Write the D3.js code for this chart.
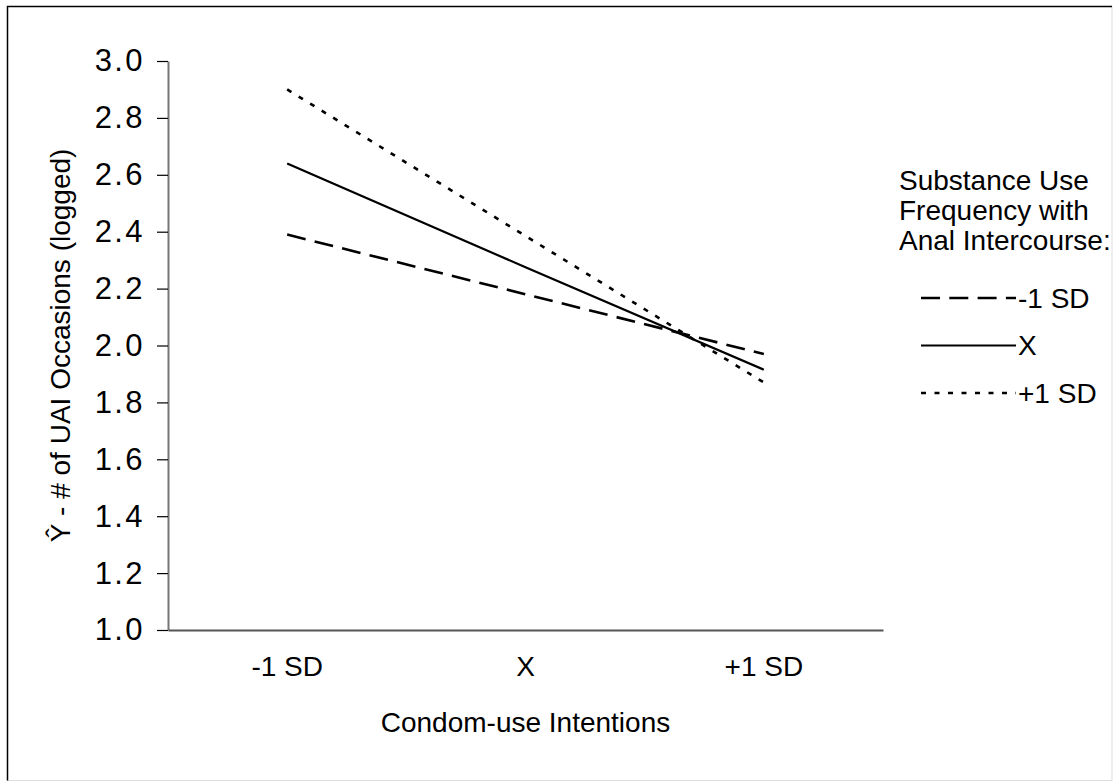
<!DOCTYPE html>
<html>
<head>
<meta charset="utf-8">
<script src="https://cdn.jsdelivr.net/npm/d3@7"></script>
<style>
  body { margin: 0; background: #fff; }
  svg text { font-family: "Liberation Sans", Arial, sans-serif; fill: #000; }
</style>
</head>
<body>
<div id="chart"></div>
<script>
// categories on the x axis
var categories = ["-1 SD", "X", "+1 SD"];

// predicted values per moderator level
var seriesNames = ["-1 SD", "X", "+1 SD"];
var lowValues  = [2.39, 2.18, 1.97];
var meanValues = [2.64, 2.275, 1.915];
var highValues = [2.90, 2.385, 1.87];

var yTicks = [1.0, 1.2, 1.4, 1.6, 1.8, 2.0, 2.2, 2.4, 2.6, 2.8, 3.0];

var legendTitle = ["Substance Use", "Frequency with", "Anal Intercourse:"];

var W = 1113, H = 782;
var margin = {top: 61, right: 230, bottom: 152, left: 168};
var width = W - margin.left - margin.right,
    height = H - margin.top - margin.bottom;

var series = [
    {name: seriesNames[0], values: lowValues,  dash: "19,9.3", sw: 2.6},
    {name: seriesNames[1], values: meanValues, dash: null,     sw: 2.2},
    {name: seriesNames[2], values: highValues, dash: "5,8.5",  sw: 2.6}
];

var svg = d3.select("#chart").append("svg")
    .attr("width", W)
    .attr("height", H);

// outer frame
svg.append("rect")
    .attr("x", 7.5).attr("y", 6.5)
    .attr("width", W - 8.5).attr("height", H - 8)
    .attr("fill", "none")
    .attr("stroke", "#ddd");
svg.append("path")
    .attr("d", "M7.5," + (H - 1.5) + "V6.5H" + (W - 1))
    .attr("fill", "none")
    .attr("stroke", "#000")
    .attr("stroke-width", 1.5);

var chart = svg.append("g")
    .attr("transform", "translate(" + margin.left + "," + margin.top + ")");

var x = d3.scaleBand().domain(categories).range([0, width]);
var y = d3.scaleLinear().domain([1, 3]).range([height, 0]);

// y axis
var yAxis = chart.append("g")
    .attr("class", "y axis")
    .call(d3.axisLeft(y).tickValues(yTicks).tickFormat(d3.format(".1f"))
        .tickSize(11).tickSizeOuter(0).tickPadding(12));
yAxis.select(".domain").attr("stroke", "#777").attr("stroke-width", 2);
yAxis.selectAll(".tick line").attr("stroke", "#000").attr("stroke-width", 1.2);
yAxis.selectAll(".tick text")
    .style("font-size", "31px")
    .style("letter-spacing", "2.4px");

// x axis
var xAxis = chart.append("g")
    .attr("class", "x axis")
    .attr("transform", "translate(0," + height + ")")
    .call(d3.axisBottom(x).tickSize(0).tickSizeOuter(0).tickPadding(26));
xAxis.select(".domain").attr("stroke", "#555").attr("stroke-width", 2);
xAxis.selectAll(".tick text")
    .style("font-size", "28px");

// axis titles
chart.append("text")
    .attr("x", width / 2)
    .attr("y", height + 102)
    .attr("text-anchor", "middle")
    .style("font-size", "28px")
    .text("Condom-use Intentions");

chart.append("text")
    .attr("transform", "rotate(-90)")
    .attr("x", -height / 2)
    .attr("y", 70 - margin.left)
    .attr("text-anchor", "middle")
    .style("font-size", "28px")
    .text("\u0176 - # of UAI Occasions (logged)");

// lines
var line = d3.line()
    .x(function (d, i) { return x(categories[i]) + x.bandwidth() / 2; })
    .y(function (d) { return y(d); });

chart.selectAll(".series")
    .data(series)
    .enter().append("path")
    .attr("class", "series")
    .attr("d", function (d) { return line(d.values); })
    .attr("fill", "none")
    .attr("stroke", "#000")
    .attr("stroke-width", function (d) { return d.sw; })
    .attr("stroke-dasharray", function (d) { return d.dash; });

// legend
var legend = svg.append("g").attr("transform", "translate(899,0)");
legend.selectAll(".ltitle")
    .data(legendTitle)
    .enter().append("text")
    .attr("class", "ltitle")
    .attr("x", 0)
    .attr("y", function (d, i) { return 190 + i * 30; })
    .style("font-size", "28px")
    .text(function (d) { return d; });

var item = legend.selectAll(".item")
    .data(series)
    .enter().append("g")
    .attr("class", "item")
    .attr("transform", function (d, i) { return "translate(0," + (298 + i * 47.5) + ")"; });
item.append("line")
    .attr("x1", 22).attr("x2", 117)
    .attr("stroke", "#000")
    .attr("stroke-width", function (d) { return d.sw; })
    .attr("stroke-dasharray", function (d) { return d.dash; });
item.append("text")
    .attr("x", 119)
    .attr("dy", "0.35em")
    .style("font-size", "28px")
    .text(function (d) { return d.name; });
</script>
</body>
</html>
